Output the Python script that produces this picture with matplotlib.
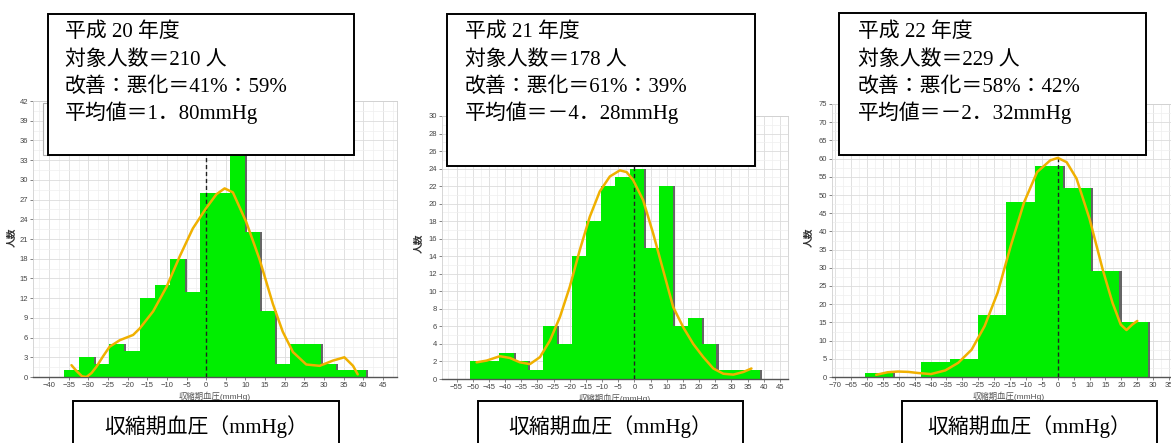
import numpy as np
import matplotlib
matplotlib.use("Agg")
import matplotlib.pyplot as plt
from matplotlib.patches import Rectangle
from matplotlib.ticker import MultipleLocator
import matplotlib.patheffects as pe

plt.rcParams['font.family'] = ['Liberation Sans', 'Noto Sans CJK JP']

# ---------------- data ----------------
# Panel 1 : 平成20年度 (20 equal bins between min and max)
h20_range = (-36.2, 40.7)
h20_counts = [1, 3, 2, 5, 4, 12, 14, 18, 13, 28, 28, 34, 22, 10, 2, 5, 5, 2, 1, 1]
h20_curve_x = [-34.3, -33.0, -31.6, -30.5, -29.2, -27.9, -26.2, -24.6, -22.0, -18.6, -16.9,
               -13.5, -10.1, -6.7, -3.4, 0.0, 2.6, 4.7, 6.8, 10.2, 13.6, 17.0, 19.5,
               22.1, 25.5, 28.9, 32.3, 35.2, 37.4, 38.6]
h20_curve_y = [1.8, 0.9, 0.1, 0.0, 0.6, 1.6, 3.2, 4.6, 5.6, 6.4, 7.4,
               10.0, 13.7, 18.4, 22.6, 25.7, 27.8, 28.7, 28.1, 23.6, 17.9, 11.1, 6.9,
               3.8, 1.9, 1.7, 2.5, 3.0, 1.7, 0.4]

# Panel 2 : 平成21年度
h21_range = (-50.7, 38.8)
h21_counts = [2, 2, 3, 2, 1, 6, 4, 14, 18, 22, 23, 24, 15, 22, 6, 7, 4, 1, 1, 1]
h21_curve_x = [-48.8, -45.7, -41.6, -38.5, -35.4, -32.3, -29.2, -26.1, -23.0, -20.0, -16.9,
               -13.8, -10.7, -7.6, -4.5, -2.4, -0.4, 2.7, 5.8, 8.9, 12.0, 15.1, 18.2,
               21.3, 24.4, 27.5, 30.6, 33.7, 36.2]
h21_curve_y = [1.9, 2.1, 2.6, 2.4, 1.9, 1.7, 2.5, 4.4, 7.1, 10.5, 14.7,
               18.5, 21.4, 23.1, 23.8, 23.6, 22.7, 20.4, 16.6, 12.4, 8.2, 5.9, 4.0,
               2.5, 1.2, 0.6, 0.5, 0.8, 1.2]

# Panel 3 : 平成22年度 (10 bins)
h22_range = (-60.7, 28.3)
h22_counts = [1, 0, 4, 5, 17, 48, 58, 52, 29, 15]
h22_curve_x = [-57.1, -53.5, -50.3, -47.0, -44.0, -39.9, -35.4, -31.3, -27.1, -23.0, -18.9,
               -14.8, -10.6, -6.5, -2.4, 0.0, 2.8, 5.9, 10.0, 14.1, 17.2, 19.8, 21.6,
               23.4, 25.0]
h22_curve_y = [0.6, 1.3, 1.5, 1.4, 1.1, 0.8, 1.8, 3.9, 7.5, 14.0, 23.2,
               36.0, 48.0, 56.3, 59.5, 60.2, 59.0, 54.5, 43.4, 29.6, 20.4, 14.4, 12.9,
               14.4, 15.4]

years = ["平成 20 年度", "平成 21 年度", "平成 22 年度"]
n_people = ["対象人数＝210 人", "対象人数＝178 人", "対象人数＝229 人"]
ratios = ["改善：悪化＝41%：59%", "改善：悪化＝61%：39%", "改善：悪化＝58%：42%"]
means = ["平均値＝1．80mmHg", "平均値＝－4．28mmHg", "平均値＝－2．32mmHg"]
xlabel_box = "収縮期血圧（mmHg）"
ylabel = "人数"

x_ticks = [np.arange(-40, 46, 5), np.arange(-55, 46, 5), np.arange(-70, 41, 5)]
y_ticks = [np.arange(0, 43, 3), np.arange(0, 31, 2), np.arange(0, 76, 5)]

# ---------------- layout ----------------
W, H = 1171, 443
fig = plt.figure(figsize=(W / 100, H / 100), dpi=100)


def fx(px):
    return px / W


def fy(py):
    return 1 - py / H


def add_ax(l, r, t, b):
    return fig.add_axes([fx(l), fy(b), fx(r - l), (b - t) / H])


panels = [
    dict(ax=(33, 397, 101, 377), xlim=(-44.1, 48.6), ylim=(0, 42), ymin=1.5,
         rng=h20_range, counts=h20_counts, cx=h20_curve_x, cy=h20_curve_y,
         box=(48, 354, 14, 155), tx=65, legend=(43, 138, 103, 155),
         bbox=(73, 339, 401), ylab=(12, 237)),
    dict(ax=(442, 788, 116, 379), xlim=(-59.5, 47.5), ylim=(0, 30), ymin=1,
         rng=h21_range, counts=h21_counts, cx=h21_curve_x, cy=h21_curve_y,
         box=(447, 755, 14, 166), tx=465, legend=None,
         bbox=(478, 743, 401), ylab=(419, 243)),
    dict(ax=(832, 1185, 104, 377), xlim=(-71, 39.8), ylim=(0, 75), ymin=2.5,
         rng=h22_range, counts=h22_counts, cx=h22_curve_x, cy=h22_curve_y,
         box=(839, 1146, 13, 155), tx=858, legend=(842, 930, 104, 155),
         bbox=(902, 1157, 401), ylab=(809, 237)),
]

for i, p in enumerate(panels):
    ax = add_ax(*p['ax'])
    counts = np.array(p['counts'])
    edges = np.linspace(p['rng'][0], p['rng'][1], len(counts) + 1)
    widths = np.diff(edges)
    bars = ax.bar(edges[:-1], counts, width=widths, align='edge', color='#00ee00',
                  edgecolor='none', linewidth=0, zorder=2)
    for b in bars:
        b.set_path_effects([pe.SimplePatchShadow(offset=(1.5, 0), shadow_rgbFace='#555555', alpha=0.9),
                            pe.Normal()])
    ax.axvline(0, color='#222222', lw=1.0, ls=(0, (3, 2)), zorder=3)
    ax.plot(p['cx'], p['cy'], color='#f0b000', lw=1.8, zorder=4, solid_capstyle='round')

    ax.set_xlim(*p['xlim'])
    ax.set_ylim(*p['ylim'])
    ax.set_xticks(x_ticks[i])
    ax.set_yticks(y_ticks[i])
    ax.xaxis.set_minor_locator(MultipleLocator(2.5))
    ax.yaxis.set_minor_locator(MultipleLocator(p['ymin']))
    ax.grid(True, which='major', color='#dcdcdc', lw=0.6, zorder=0)
    ax.grid(True, which='minor', color='#efefef', lw=0.5, zorder=0)
    ax.set_axisbelow(True)
    ax.tick_params(axis='both', which='major', labelsize=5.5, colors='#555555', length=2, width=0.5, pad=1.5)
    ax.tick_params(axis='both', which='minor', length=0)
    for lab in ax.get_xticklabels() + ax.get_yticklabels():
        lab.set_color('#444444')
    for s in ['top', 'right', 'left']:
        ax.spines[s].set_color('#d0d0d0')
        ax.spines[s].set_linewidth(0.6)
    ax.spines['bottom'].set_color('#555555')
    ax.spines['bottom'].set_linewidth(1.0)
    ax.set_xlabel("収縮期血圧(mmHg)", fontsize=6, color='#555555', labelpad=2,
                  family=['Liberation Sans', 'Noto Sans CJK JP'])

    # y label
    fig.text(fx(p['ylab'][0]), fy(p['ylab'][1]), ylabel, rotation=90, fontsize=7,
             fontweight='bold', color='#333333', ha='center', va='center',
             family=['Noto Sans CJK JP'])

    # faint legend remnant
    if p['legend'] is not None:
        l, r, t, b = p['legend']
        fig.add_artist(Rectangle((fx(l), fy(b)), fx(r - l), (b - t) / H, transform=fig.transFigure,
                                 facecolor='white', edgecolor='#b0b0b0', lw=0.8, zorder=4))

    # annotation box
    l, r, t, b = p['box']
    fig.add_artist(Rectangle((fx(l), fy(b)), fx(r - l), (b - t) / H, transform=fig.transFigure,
                             facecolor='white', edgecolor='black', lw=1.4, zorder=5))
    lines = [years[i], n_people[i], ratios[i], means[i]]
    for k, (txt, yy) in enumerate(zip(lines, [32, 60, 87, 113])):
        fig.text(fx(p['tx']), fy(yy), txt, fontsize=15, ha='left', va='center',
                 family=['Liberation Serif', 'Noto Sans CJK JP'], color='black', zorder=6)

    # bottom axis-title box
    l, r, t = p['bbox']
    fig.add_artist(Rectangle((fx(l), fy(H + 5)), fx(r - l), (H + 5 - t) / H, transform=fig.transFigure,
                             facecolor='white', edgecolor='black', lw=1.4, zorder=5, clip_on=False))
    fig.text(fx((l + r) / 2), fy(427), xlabel_box, fontsize=15, ha='center', va='center',
             family=['Liberation Serif', 'Noto Sans CJK JP'], color='black', zorder=6)

fig.savefig("out.png", dpi=100)
